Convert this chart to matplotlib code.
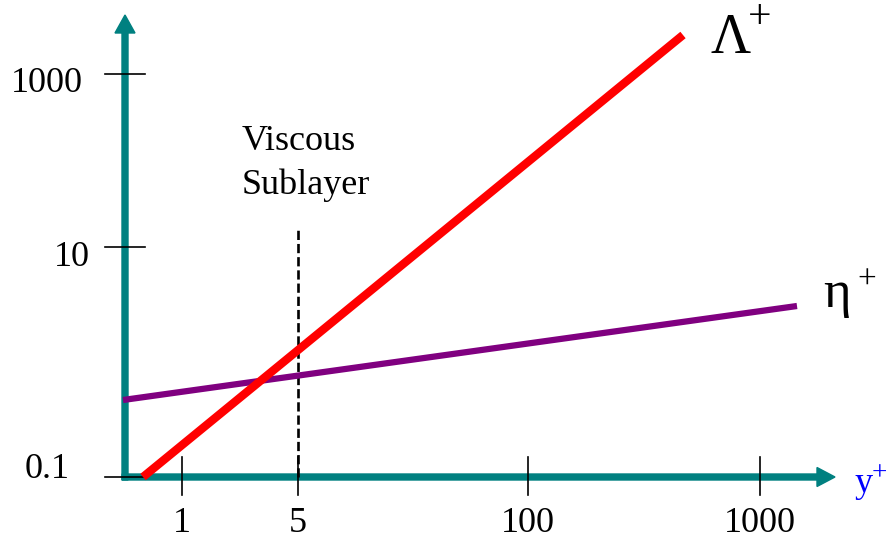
import matplotlib.pyplot as plt

plt.rcParams['font.family'] = ['Liberation Serif', 'DejaVu Serif']

# schematic axis units (ticks are not evenly spaced in the original sketch)
x_tick_pos = [0.57, 1.73, 4.03, 6.35]
x_tick_labels = ['1', '5', '100', '1000']
y_tick_pos = [0.0, 2.30, 4.03]
y_tick_labels = ['0.1', '10', '1000']

# Lambda+ and eta+ lines (end points)
lambda_x = [0.18, 5.58]
lambda_y = [0.0, 4.42]
eta_x = [-0.02, 6.72]
eta_y = [0.77, 1.71]

# viscous sublayer edge
sublayer_x = 1.73
sublayer_top = 2.47

teal = '#008080'

fig = plt.figure(figsize=(8.86, 5.42), dpi=100)
ax = fig.add_axes([0, 0, 1, 1])
ax.set_xlim(-1.25, 7.61)
ax.set_ylim(-0.65, 4.77)
ax.axis('off')

# axes arrows
ax.arrow(0, -0.03, 0, 4.65, width=0.06, head_width=0.2, head_length=0.18,
         length_includes_head=True, color=teal, zorder=2)
ax.arrow(-0.03, 0, 7.13, 0, width=0.06, head_width=0.19, head_length=0.18,
         length_includes_head=True, color=teal, zorder=2)

# ticks
for p, lab in zip(x_tick_pos, x_tick_labels):
    ax.plot([p, p], [-0.18, 0.2], color='black', lw=1.2, zorder=3)
    ax.text(p, -0.47, lab, fontsize=26, ha='center', va='center')
for p, lab in zip(y_tick_pos, y_tick_labels):
    ax.plot([-0.2, 0.2], [p, p], color='black', lw=1.2, zorder=3)
ax.text(-0.42, 3.94, '1000', fontsize=26, ha='right', va='center')
ax.text(-0.35, 2.19, '10', fontsize=26, ha='right', va='center')
ax.text(-0.55, 0.07, '0.1', fontsize=26, ha='right', va='center')

# viscous sublayer line
ax.plot([sublayer_x, sublayer_x], [0, sublayer_top], color='black', lw=1.9,
        linestyle=(0, (3.5, 1.5)), zorder=3)
ax.text(1.17, 3.35, 'Viscous', fontsize=26, ha='left', va='center')
ax.text(1.17, 2.92, 'Sublayer', fontsize=26, ha='left', va='center')

# curves
ax.plot(eta_x, eta_y, color='#800080', lw=4.5, solid_capstyle='butt', zorder=4)
ax.plot(lambda_x, lambda_y, color='red', lw=6, solid_capstyle='butt', zorder=5)

# labels
ax.text(6.06, 4.24, '\u039b', fontsize=40, ha='center', va='baseline')
ax.text(6.35, 4.485, '+', fontsize=30, ha='center', va='baseline')
ax.text(7.115, 1.70, '\u03b7', fontsize=38, ha='center', va='baseline')
ax.text(7.42, 1.88, '+', fontsize=24, ha='center', va='baseline')
ax.text(7.385, -0.15, 'y', fontsize=26, ha='center', va='baseline', color='blue')
ax.text(7.54, -0.03, '+', fontsize=20, ha='center', va='baseline', color='blue')

fig.savefig('out.png', dpi=100)
